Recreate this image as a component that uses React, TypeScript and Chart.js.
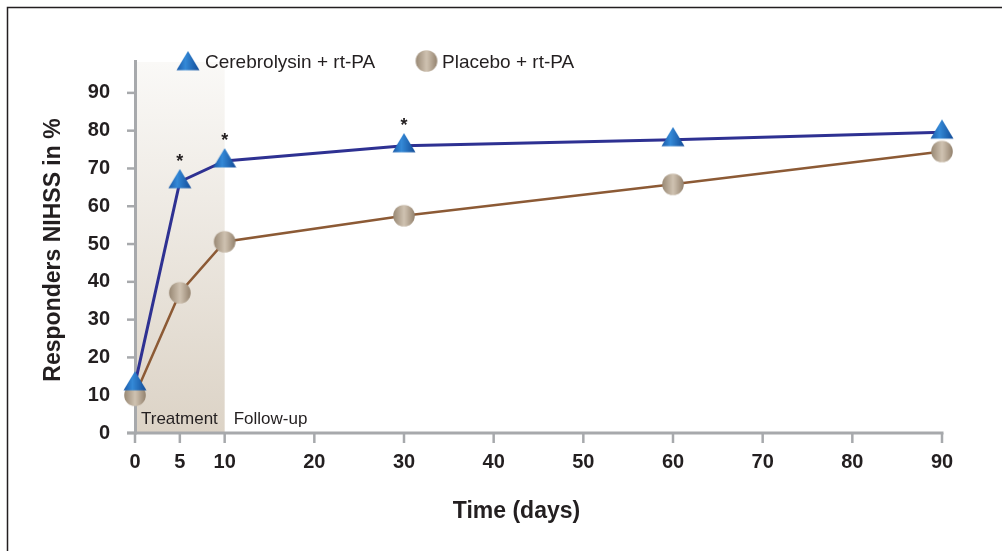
import React, { useEffect, useRef } from "react";
import { Chart, registerables } from "chart.js";

Chart.register(...registerables);

const days = [0, 5, 10, 30, 60, 90];
const cerebrolysin = [13, 66.5, 72, 76, 77.6, 79.6];
const placebo = [10, 37.1, 50.6, 57.5, 65.8, 74.5];
const significant = [false, true, true, true, false, false];
const xTickValues = [0, 5, 10, 20, 30, 40, 50, 60, 70, 80, 90];
const yTickValues = [0, 10, 20, 30, 40, 50, 60, 70, 80, 90];
const seriesLabels = ["Cerebrolysin + rt-PA", "Placebo + rt-PA"];
const phaseLabels = ["Treatment", "Follow-up"];
const treatmentEnd = 10;
const xTitle = "Time (days)";
const yTitle = "Responders NIHSS in %";

const FONT = "'Liberation Sans', Arial, sans-serif";
const TEXT = "#231f20";
const AXIS = "#a7a9ac";

function makeTriangle(): HTMLCanvasElement {
  const c = document.createElement("canvas");
  c.width = 24;
  c.height = 26;
  const ctx = c.getContext("2d")!;
  const g = ctx.createLinearGradient(1, 0, 23, 0);
  g.addColorStop(0, "#1b5cab");
  g.addColorStop(0.38, "#3489d7");
  g.addColorStop(1, "#134d99");
  ctx.fillStyle = g;
  ctx.beginPath();
  ctx.moveTo(12, 0.3);
  ctx.lineTo(23.5, 19.5);
  ctx.lineTo(0.5, 19.5);
  ctx.closePath();
  ctx.fill();
  return c;
}

function makeCircle(): HTMLCanvasElement {
  const c = document.createElement("canvas");
  c.width = 24;
  c.height = 24;
  const ctx = c.getContext("2d")!;
  const g = ctx.createLinearGradient(1.5, 0, 22.5, 0);
  g.addColorStop(0, "#9a8a76");
  g.addColorStop(0.5, "#cfc2b1");
  g.addColorStop(0.62, "#c3b5a3");
  g.addColorStop(1, "#958470");
  ctx.fillStyle = g;
  ctx.beginPath();
  ctx.arc(12, 12, 10.8, 0, Math.PI * 2);
  ctx.fill();
  return c;
}

export default function App() {
  const ref = useRef<HTMLCanvasElement>(null);

  useEffect(() => {
    const tri = makeTriangle();
    const circ = makeCircle();

    const decor = {
      id: "decor",
      beforeDatasetsDraw(chart: any) {
        const { ctx, chartArea, scales } = chart;
        const xs = scales.x;
        const ys = scales.y;
        ctx.save();
        // frame
        ctx.strokeStyle = TEXT;
        ctx.lineWidth = 1.5;
        ctx.beginPath();
        ctx.moveTo(7.5, 551);
        ctx.lineTo(7.5, 7.5);
        ctx.lineTo(1002, 7.5);
        ctx.stroke();
        // treatment shading
        const x0 = xs.getPixelForValue(0);
        const x1 = xs.getPixelForValue(treatmentEnd);
        const g = ctx.createLinearGradient(0, 62, 0, chartArea.bottom);
        g.addColorStop(0, "#faf9f7");
        g.addColorStop(1, "#dcd3c6");
        ctx.fillStyle = g;
        ctx.fillRect(x0, 62, x1 - x0, chartArea.bottom - 62);
        // phase labels
        ctx.fillStyle = TEXT;
        ctx.font = `17px ${FONT}`;
        ctx.textAlign = "left";
        ctx.textBaseline = "alphabetic";
        ctx.fillText(phaseLabels[0], x0 + 6, chartArea.bottom - 9);
        ctx.fillText(phaseLabels[1], x1 + 9, chartArea.bottom - 9);
        // axes
        ctx.strokeStyle = AXIS;
        ctx.lineWidth = 3;
        ctx.beginPath();
        ctx.moveTo(x0 + 0.5, chartArea.top);
        ctx.lineTo(x0 + 0.5, chartArea.bottom + 1.5);
        ctx.stroke();
        ctx.beginPath();
        ctx.moveTo(x0 - 8, chartArea.bottom);
        ctx.lineTo(chartArea.right + 1.5, chartArea.bottom);
        ctx.stroke();
        ctx.lineWidth = 2.5;
        yTickValues.forEach((v) => {
          const y = ys.getPixelForValue(v);
          ctx.beginPath();
          ctx.moveTo(x0 - 8, y);
          ctx.lineTo(x0, y);
          ctx.stroke();
        });
        xTickValues.forEach((v) => {
          const x = xs.getPixelForValue(v);
          ctx.beginPath();
          ctx.moveTo(x, chartArea.bottom);
          ctx.lineTo(x, chartArea.bottom + 10);
          ctx.stroke();
        });
        ctx.restore();
      },
      afterDraw(chart: any) {
        const { ctx } = chart;
        ctx.save();
        // asterisks
        const meta = chart.getDatasetMeta(0);
        ctx.fillStyle = TEXT;
        ctx.font = `bold 18px ${FONT}`;
        ctx.textAlign = "center";
        ctx.textBaseline = "alphabetic";
        significant.forEach((s, i) => {
          if (!s) return;
          const p = meta.data[i];
          ctx.fillText("*", p.x, p.y - 25 + 10.5);
        });
        // legend
        ctx.drawImage(tri, 176, 50.7);
        ctx.drawImage(circ, 414.5, 49);
        ctx.font = `19px ${FONT}`;
        ctx.textAlign = "left";
        ctx.fillText(seriesLabels[0], 205, 68);
        ctx.fillText(seriesLabels[1], 442, 68);
        // titles
        ctx.font = `bold 23px ${FONT}`;
        ctx.textAlign = "center";
        ctx.fillText(xTitle, 516.5, 518);
        ctx.translate(54, 250);
        ctx.rotate(-Math.PI / 2);
        ctx.textBaseline = "middle";
        ctx.fillText(yTitle, 0, 0);
        ctx.restore();
      },
    };

    const chart = new Chart(ref.current!, {
      type: "line",
      data: {
        datasets: [
          {
            label: seriesLabels[0],
            data: days.map((d, i) => ({ x: d, y: cerebrolysin[i] })),
            borderColor: "#2e3192",
            borderWidth: 3,
            pointStyle: tri as any,
            clip: false as any,
            tension: 0,
          },
          {
            label: seriesLabels[1],
            data: days.map((d, i) => ({ x: d, y: placebo[i] })),
            borderColor: "#8c5a35",
            borderWidth: 2.5,
            pointStyle: circ as any,
            clip: false as any,
            tension: 0,
          },
        ],
      },
      options: {
        responsive: false,
        animation: false,
        events: [],
        layout: { padding: { left: 0, top: 60, right: 60, bottom: 0 } },
        plugins: { legend: { display: false }, tooltip: { enabled: false } },
        scales: {
          x: {
            type: "linear",
            min: 0,
            max: 90,
            grid: { display: false },
            border: { display: false },
            afterBuildTicks: (s: any) => {
              s.ticks = xTickValues.map((v) => ({ value: v }));
            },
            afterFit: (s: any) => {
              s.height = 118;
            },
            ticks: {
              padding: 9,
              color: TEXT,
              font: { family: FONT, size: 20, weight: "bold" },
              maxRotation: 0,
              autoSkip: false,
            },
          },
          y: {
            type: "linear",
            min: 0,
            max: 98.7,
            grid: { display: false },
            border: { display: false },
            afterBuildTicks: (s: any) => {
              s.ticks = yTickValues.map((v) => ({ value: v }));
            },
            afterFit: (s: any) => {
              s.width = 135;
            },
            ticks: {
              padding: 17,
              color: TEXT,
              font: { family: FONT, size: 20, weight: "bold" },
            },
          },
        },
      },
      plugins: [decor],
    } as any);
    return () => chart.destroy();
  }, []);

  return (
    <div style={{ position: "absolute", left: 0, top: 0, width: 1002, height: 551, background: "#fff" }}>
      <canvas ref={ref} width={1002} height={551} style={{ display: "block" }} />
    </div>
  );
}
